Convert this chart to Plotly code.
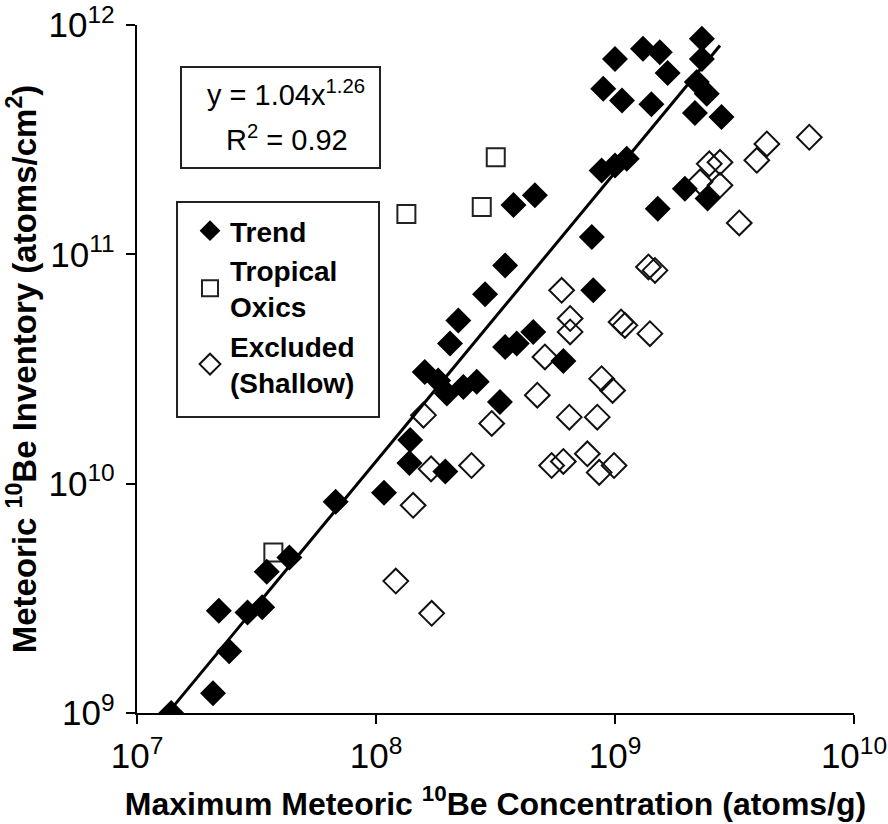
import plotly.graph_objects as go

# ---- data ----
trend_x = [1.39e7, 2.08e7, 2.43e7, 2.20e7, 2.90e7, 3.34e7, 3.49e7, 4.34e7, 6.78e7, 1.08e8,
           1.38e8, 1.39e8, 1.95e8, 3.30e8, 1.60e8, 1.82e8, 1.98e8, 2.32e8, 2.64e8, 2.04e8,
           2.21e8, 2.86e8, 3.47e8, 3.47e8, 3.88e8, 4.55e8, 6.08e8, 8.11e8, 8.00e8, 3.76e8,
           4.62e8, 8.79e8, 1.00e9, 1.12e9, 1.51e9, 1.96e9, 2.44e9, 8.93e8, 1.07e9, 1.42e9,
           2.16e9, 2.79e9, 1.00e9, 1.31e9, 1.54e9, 1.66e9, 2.31e9, 2.31e9, 2.20e9, 2.42e9]
trend_y = [1.00e9, 1.22e9, 1.86e9, 2.79e9, 2.74e9, 2.89e9, 4.13e9, 4.76e9, 8.34e9, 9.12e9,
           1.23e10, 1.55e10, 1.13e10, 2.27e10, 3.07e10, 2.82e10, 2.47e10, 2.64e10, 2.78e10, 4.08e10,
           5.15e10, 6.70e10, 8.95e10, 3.94e10, 4.08e10, 4.59e10, 3.43e10, 6.97e10, 1.19e11, 1.64e11,
           1.81e11, 2.32e11, 2.44e11, 2.61e11, 1.58e11, 1.93e11, 1.75e11, 5.27e11, 4.69e11, 4.51e11,
           4.13e11, 3.97e11, 7.11e11, 7.87e11, 7.60e11, 6.17e11, 8.71e11, 7.11e11, 5.64e11, 5.01e11]

tropical_x = [3.72e7, 1.34e8, 2.77e8, 3.17e8]
tropical_y = [5.01e9, 1.50e11, 1.61e11, 2.65e11]

excluded_x = [1.21e8, 1.71e8, 1.43e8, 1.70e8, 2.51e8, 1.58e8, 3.05e8, 4.73e8, 8.79e8, 9.77e8,
              6.44e8, 8.43e8, 5.43e8, 6.08e8, 7.66e8, 8.59e8, 9.91e8, 5.09e8, 6.49e8, 6.49e8,
              1.06e9, 1.10e9, 1.40e9, 5.98e8, 1.38e9, 1.47e9, 3.31e9, 2.48e9, 2.75e9, 2.27e9,
              2.75e9, 4.32e9, 3.92e9, 6.50e9]
excluded_y = [3.76e9, 2.72e9, 8.05e9, 1.16e10, 1.20e10, 1.99e10, 1.83e10, 2.43e10, 2.87e10, 2.55e10,
              1.95e10, 1.95e10, 1.20e10, 1.25e10, 1.35e10, 1.12e10, 1.20e10, 3.57e10, 5.25e10, 4.59e10,
              5.07e10, 4.90e10, 4.51e10, 6.97e10, 8.81e10, 8.51e10, 1.37e11, 2.48e11, 2.52e11, 2.07e11,
              2.00e11, 3.03e11, 2.57e11, 3.24e11]

fit_a = 1.04
fit_b = 1.26
fit_x = [1.40e7, 2.75e9]
fit_y = [fit_a * v ** fit_b for v in fit_x]

equation_line1 = "y = 1.04x<sup>1.26</sup>"
equation_line2 = "R<sup>2</sup> = 0.92"

FONT = "Liberation Sans, Arial, sans-serif"

# plot-area geometry in pixels (for paper-coordinate placement of boxes)
PL, PR, PT, PB = 137, 854, 25, 713
def px(x):
    return (x - PL) / (PR - PL)
def py(y):
    return (PB - y) / (PB - PT)

fig = go.Figure()

fig.add_trace(go.Scatter(
    x=excluded_x, y=excluded_y, mode="markers", name="<b>Excluded</b><br><b>(Shallow)</b>",
    legendrank=3,
    marker=dict(symbol="diamond-open", size=19, color="#111111", line=dict(width=2, color="#111111")),
))
fig.add_trace(go.Scatter(
    x=tropical_x, y=tropical_y, mode="markers", name="<b>Tropical</b><br><b>Oxics</b>",
    legendrank=2,
    marker=dict(symbol="square-open", size=18, color="#222222", line=dict(width=2, color="#222222")),
))
fig.add_trace(go.Scatter(
    x=fit_x, y=fit_y, mode="lines", showlegend=False,
    line=dict(color="black", width=3),
))
fig.add_trace(go.Scatter(
    x=trend_x, y=trend_y, mode="markers", name="<b>Trend</b>",
    legendrank=1,
    marker=dict(symbol="diamond", size=20, color="black", line=dict(width=0)),
))

axis_common = dict(
    type="log", dtick=1, exponentformat="power", showgrid=False, zeroline=False,
    showline=True, linecolor="black", linewidth=1.5,
    ticks="outside", ticklen=9, tickwidth=1.5, tickcolor="black",
    tickfont=dict(family=FONT, size=28, color="black"),
    automargin=False, mirror=False,
)

fig.update_xaxes(**axis_common, range=[7, 10], ticklabelstandoff=4,
                 title=dict(text="<b>Maximum Meteoric <sup>10</sup>Be Concentration (atoms/g)</b>",
                            font=dict(family=FONT, size=32, color="black"), standoff=18))
fig.update_yaxes(**axis_common, range=[9, 12], ticklabelstandoff=6,
                 title=dict(text="<b>Meteoric <sup>10</sup>Be Inventory (atoms/cm<sup>2</sup>)</b>",
                            font=dict(family=FONT, size=33, color="black"), standoff=2))

# equation box
fig.add_shape(type="rect", xref="paper", yref="paper",
              x0=px(181), x1=px(380), y0=py(168), y1=py(67),
              line=dict(color="#222222", width=2), fillcolor="white", layer="above")
fig.add_annotation(xref="paper", yref="paper", x=px(286), y=py(93),
                   xanchor="center", yanchor="middle",
                   text=equation_line1, showarrow=False,
                   font=dict(family=FONT, size=29, color="black"))
fig.add_annotation(xref="paper", yref="paper", x=px(287), y=py(138),
                   xanchor="center", yanchor="middle",
                   text=equation_line2, showarrow=False,
                   font=dict(family=FONT, size=29, color="black"))
# legend frame
fig.add_shape(type="rect", xref="paper", yref="paper",
              x0=px(177), x1=px(379), y0=py(417), y1=py(202),
              line=dict(color="#222222", width=2), fillcolor="rgba(0,0,0,0)", layer="above")

fig.update_layout(
    width=888, height=824,
    margin=dict(l=PL, r=888 - PR, t=PT, b=824 - PB),
    paper_bgcolor="white", plot_bgcolor="white",
    showlegend=True,
    legend=dict(x=px(190), y=py(206), xanchor="left", yanchor="top",
                bgcolor="rgba(0,0,0,0)", borderwidth=0,
                font=dict(family=FONT, size=28, color="black"),
                itemwidth=30, tracegroupgap=7),
)

fig.write_html("out.html")
